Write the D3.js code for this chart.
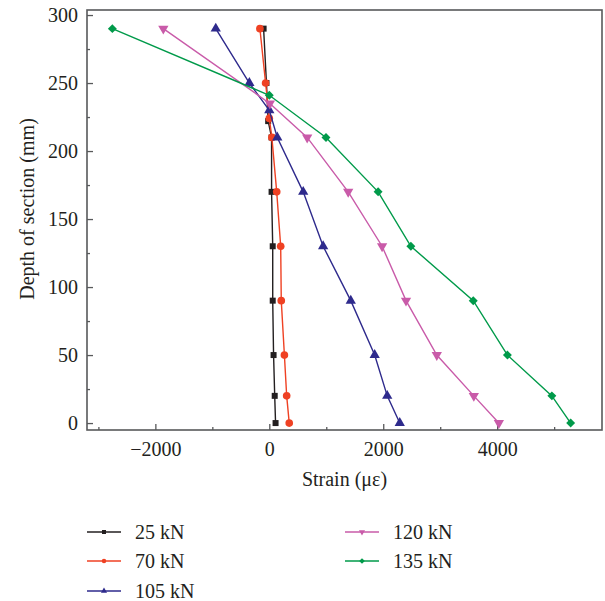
<!DOCTYPE html>
<html>
<head>
<meta charset="utf-8">
<script src="https://cdn.jsdelivr.net/npm/d3@7"></script>
<style>
  html, body { margin: 0; padding: 0; background: #fff; }
  svg { display: block; }
  text { font-family: "Liberation Serif", "Times New Roman", serif; fill: #231f20; }
</style>
</head>
<body>
<svg id="chart" width="605" height="601"></svg>
<script>
// Strain (με) along the section depth (mm) for each load level
const depth25 = [290, 250, 222, 210, 170, 130, 90, 50, 20, 0];
const strain25 = [-100, -50, -20, 40, 40, 60, 60, 75, 95, 110];

const depth70 = [290, 250, 224, 210, 170, 130, 90, 50, 20, 0];
const strain70 = [-165, -65, 0, 45, 130, 200, 210, 265, 305, 350];

const depth105 = [290, 250, 230, 210, 170, 130, 90, 50, 20, 0];
const strain105 = [-940, -350, 0, 140, 595, 945, 1430, 1850, 2070, 2290];

const depth120 = [290, 235, 210, 170, 130, 90, 50, 20, 0];
const strain120 = [-1860, 10, 665, 1385, 1980, 2400, 2940, 3590, 4030];

const depth135 = [290, 241, 210, 170, 130, 90, 50, 20, 0];
const strain135 = [-2755, 0, 995, 1910, 2485, 3580, 4180, 4960, 5290];

const seriesNames = ["25 kN", "70 kN", "105 kN", "120 kN", "135 kN"];

const xMajorTicks = [-2000, 0, 2000, 4000];
const xMinorTicks = [-3000, -1000, 1000, 3000, 5000];
const yMajorTicks = [0, 50, 100, 150, 200, 250, 300];
const yMinorTicks = [25, 75, 125, 175, 225, 275];

// diamond drawn as a square turned 45°
const series = [
  { name: seriesNames[0], depth: depth25, strain: strain25, color: "#231f20", symbol: d3.symbolSquare, size: 36, rot: 0 },
  { name: seriesNames[1], depth: depth70, strain: strain70, color: "#ef4123", symbol: d3.symbolCircle, size: 46, rot: 0 },
  { name: seriesNames[2], depth: depth105, strain: strain105, color: "#2e2a8c", symbol: d3.symbolTriangle, size: 46, rot: 0 },
  { name: seriesNames[3], depth: depth120, strain: strain120, color: "#c95ba9", symbol: d3.symbolTriangle, size: 46, rot: 180 },
  { name: seriesNames[4], depth: depth135, strain: strain135, color: "#009a4a", symbol: d3.symbolSquare, size: 40, rot: 45 }
];

const svg = d3.select("#chart");
const plot = { left: 87, right: 602, top: 10, bottom: 430 };

const x = d3.scaleLinear().domain([-3200, 5840]).range([plot.left, plot.right]);
const y = d3.scaleLinear().domain([-5.1, 303.7]).range([plot.bottom, plot.top]);

const axisColor = "#58595b";
const fontSize = 20;

// minor ticks
svg.append("g")
  .attr("transform", `translate(0,${plot.bottom})`)
  .call(d3.axisBottom(x).tickValues(xMinorTicks).tickSize(-3).tickFormat(""))
  .call(g => g.select(".domain").remove())
  .call(g => g.selectAll("line").attr("stroke", axisColor).attr("stroke-width", 1.3));

svg.append("g")
  .attr("transform", `translate(${plot.left},0)`)
  .call(d3.axisLeft(y).tickValues(yMinorTicks).tickSize(-3).tickFormat(""))
  .call(g => g.select(".domain").remove())
  .call(g => g.selectAll("line").attr("stroke", axisColor).attr("stroke-width", 1.3));

// major ticks and labels
svg.append("g")
  .attr("transform", `translate(0,${plot.bottom})`)
  .call(d3.axisBottom(x).tickValues(xMajorTicks).tickSize(-6).tickPadding(12).tickFormat(d3.format("d")))
  .call(g => g.select(".domain").remove())
  .call(g => g.selectAll("line").attr("stroke", axisColor).attr("stroke-width", 1.3))
  .call(g => g.selectAll("text").attr("font-size", fontSize).attr("font-family", "Liberation Serif").attr("fill", "#231f20"));

svg.append("g")
  .attr("transform", `translate(${plot.left},0)`)
  .call(d3.axisLeft(y).tickValues(yMajorTicks).tickSize(-6).tickPadding(9).tickFormat(d3.format("d")))
  .call(g => g.select(".domain").remove())
  .call(g => g.selectAll("line").attr("stroke", axisColor).attr("stroke-width", 1.3))
  .call(g => g.selectAll("text").attr("font-size", fontSize).attr("font-family", "Liberation Serif").attr("fill", "#231f20"));

// frame
svg.append("rect")
  .attr("x", plot.left).attr("y", plot.top)
  .attr("width", plot.right - plot.left).attr("height", plot.bottom - plot.top)
  .attr("fill", "none").attr("stroke", axisColor).attr("stroke-width", 1.6);

// axis titles
svg.append("text")
  .attr("x", (plot.left + plot.right) / 2).attr("y", 486)
  .attr("text-anchor", "middle").attr("font-size", fontSize)
  .text("Strain (με)");

svg.append("text")
  .attr("transform", `translate(34,209) rotate(-90)`)
  .attr("text-anchor", "middle").attr("font-size", fontSize)
  .text("Depth of section (mm)");

// series lines and markers
const line = d3.line().x(d => x(d[0])).y(d => y(d[1]));

series.forEach(s => {
  const pts = s.strain.map((v, i) => [v, s.depth[i]]);
  const g = svg.append("g");
  g.append("path")
    .attr("d", line(pts))
    .attr("fill", "none").attr("stroke", s.color).attr("stroke-width", 1.4);
  g.selectAll("path.m").data(pts).join("path")
    .attr("class", "m")
    .attr("d", d3.symbol().type(s.symbol).size(s.size))
    .attr("transform", d => `translate(${x(d[0])},${y(d[1])}) rotate(${s.rot})`)
    .attr("fill", s.color);
});

// legend
const legendPos = [
  { lx: 87, ly: 532 }, { lx: 87, ly: 561 }, { lx: 87, ly: 591 },
  { lx: 345, ly: 532 }, { lx: 345, ly: 561 }
];
series.forEach((s, i) => {
  const p = legendPos[i];
  const g = svg.append("g").attr("transform", `translate(${p.lx},${p.ly})`);
  g.append("line").attr("x1", 0).attr("x2", 34).attr("y1", 0).attr("y2", 0)
    .attr("stroke", s.color).attr("stroke-width", 1.4);
  g.append("path")
    .attr("d", d3.symbol().type(s.symbol).size(16))
    .attr("transform", `translate(17,0) rotate(${s.rot})`)
    .attr("fill", s.color);
  g.append("text").attr("x", 48).attr("y", 0).attr("dy", "0.35em")
    .attr("font-size", fontSize).text(s.name);
});
</script>
</body>
</html>
